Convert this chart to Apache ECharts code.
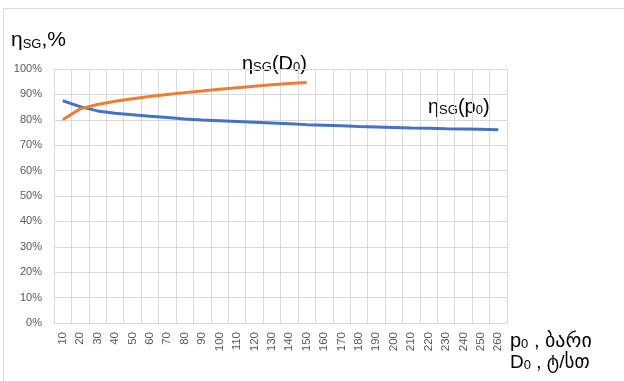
<!DOCTYPE html>
<html>
<head>
<meta charset="utf-8">
<script src="https://cdn.jsdelivr.net/npm/echarts@6/dist/echarts.min.js"></script>
<style>
html,body{margin:0;padding:0;background:#fff;}
#c{width:624px;height:381px;}
</style>
</head>
<body>
<div id="c"></div>
<script>
var categories = ['10','20','30','40','50','60','70','80','90','100','110','120','130','140','150','160','170','180','190','200','210','220','230','240','250','260'];
var etaP0 = [87.5,85.2,83.5,82.6,82.0,81.4,80.9,80.3,79.9,79.6,79.3,79.0,78.7,78.4,78.1,77.9,77.7,77.4,77.2,77.0,76.8,76.7,76.5,76.4,76.3,76.1];
var etaD0 = [80.0,84.3,86.0,87.3,88.3,89.2,90.0,90.7,91.3,92.0,92.6,93.2,93.8,94.3,94.7];
var yTicks = [0,10,20,30,40,50,60,70,80,90,100];

var FONT = "'Liberation Sans','DejaVu Sans',Arial,sans-serif";
var chart = echarts.init(document.getElementById('c'), null, {renderer:'canvas'});

function richLabel(parts, big, small){
  return {
    text: parts,
    fontFamily: FONT,
    fill: '#000',
    rich: {
      b: {fontSize: big, fontFamily: FONT, color:'#000', verticalAlign:'bottom', lineHeight: big+2},
      s: {fontSize: small, fontFamily: FONT, color:'#000', verticalAlign:'bottom', lineHeight: small}
    }
  };
}

chart.setOption({
  animation: false,
  backgroundColor: '#fff',
  grid: {left: 54, right: 117, top: 69, bottom: 58, containLabel: false},
  xAxis: {
    type: 'category',
    data: categories,
    boundaryGap: true,
    axisLine: {show: true, lineStyle: {color: '#d9d9d9', width: 1}},
    axisTick: {show: false},
    axisLabel: {rotate: 90, interval: 0, color: '#595959', fontSize: 11.5, fontFamily: FONT, margin: 9},
    splitLine: {show: true, interval: 0, lineStyle: {color: '#d9d9d9', width: 1}}
  },
  yAxis: {
    type: 'value',
    min: 0, max: 100, interval: 10,
    axisLine: {show: false},
    axisTick: {show: false},
    axisLabel: {color: '#595959', fontSize: 11, fontFamily: FONT, margin: 12, formatter: function(v){return v + '%';}},
    splitLine: {show: true, lineStyle: {color: '#d9d9d9', width: 1}}
  },
  series: [
    {name: 'p0', type: 'line', data: etaP0, symbol: 'none', lineStyle: {color: '#4472C4', width: 3}, itemStyle:{color:'#4472C4'}, z: 3},
    {name: 'D0', type: 'line', data: etaD0, symbol: 'none', lineStyle: {color: '#ED7D31', width: 3}, itemStyle:{color:'#ED7D31'}, z: 4}
  ],
  graphic: [
    {type: 'rect', shape: {x: 3.5, y: 8.5, width: 800, height: 600}, style: {fill: 'none', stroke: '#d9d9d9', lineWidth: 1}, silent: true, z: -1},
    {type: 'text', left: 11, top: 30, style: richLabel('{b|η}{s|SG}{b|,%}', 21, 13)},
    {type: 'text', left: 242, top: 54, style: richLabel('{b|η}{s|SG}{b|(D}{s|0}{b|)}', 20, 13)},
    {type: 'text', left: 428, top: 97, style: richLabel('{b|η}{s|SG}{b|(p}{s|0}{b|)}', 20, 13)},
    {type: 'text', left: 510, top: 331, style: richLabel('{b|p}{s|0}{b| , ბარი}', 20, 13)},
    {type: 'text', left: 510, top: 353, style: richLabel('{b|D}{s|0}{b| , ტ/სთ}', 19, 13)}
  ]
});
</script>
</body>
</html>
